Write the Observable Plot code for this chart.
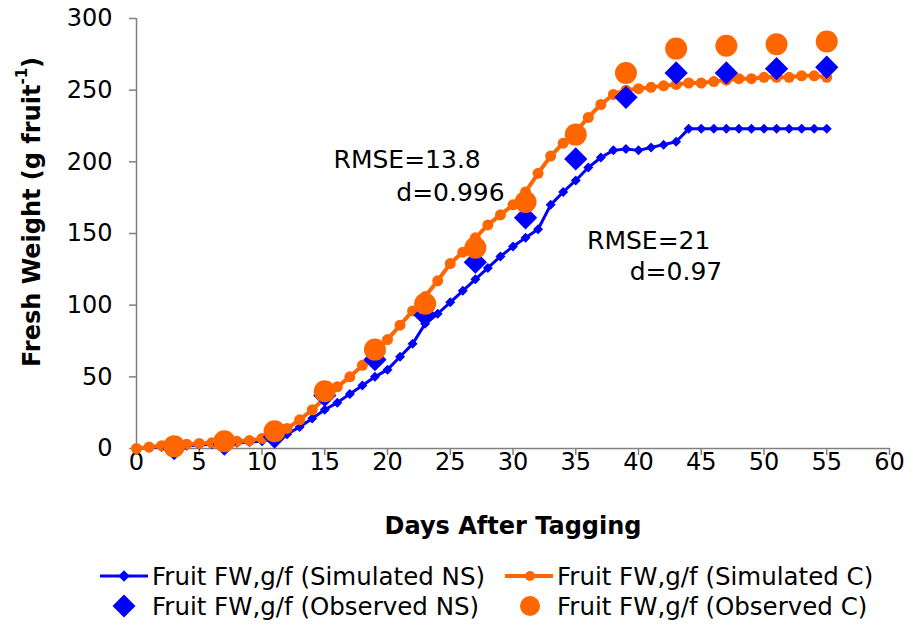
<!DOCTYPE html>
<html><head><meta charset="utf-8">
<script src="https://cdn.jsdelivr.net/npm/d3@7"></script>
<script src="https://cdn.jsdelivr.net/npm/@observablehq/plot@0.6"></script>
<style>
body{margin:0;background:#fff;font-family:"DejaVu Sans",sans-serif;}
#legend{position:relative;width:913px;height:83px;font-size:24.5px;color:#000}
.item{position:absolute;display:flex;align-items:center;height:30px;white-space:nowrap}
.item svg{margin-right:2px;flex:none}
</style></head><body>
<div id="chart"></div><div id="legend"></div>
<script>
// ---- data ----
const simDays = [0,1,2,3,4,5,6,7,8,9,10,11,12,13,14,15,16,17,18,19,20,21,22,23,24,25,26,27,28,29,30,31,32,33,34,35,36,37,38,39,40,41,42,43,44,45,46,47,48,49,50,51,52,53,54,55];
const simNS = [0,0.5,1,1.5,2,2.5,3,3.5,4,4.5,5,7,10,15,21,27,32,38,44,50,55,64,73,87,94,102,110,118,126,134,141,147,153,170,179,187,196,203,208,209,208,210,212,214,223,223,223,223,223,223,223,223,223,223,223,223];
const simC  = [0,1,2,2.5,3,3.5,4,4.5,5,5.5,7,10,14,20,27,35,43,50,58,67,76,86,96,106,117,129,137,147,156,163,170,179,192,204,213,221,231,240,247,250,251,252,253,254,255,255,256,257,258,258,259,259,259,260,260,259];
const obsDays = [3,7,11,15,19,23,27,31,35,39,43,47,51,55];
const obsNS = [0,3,8,37,62,93,130,161,202,245,262,262,265,266];
const obsC  = [1.5,5,12,40,69,101,140,172,219,262,279,281,282,284];
const xTicks = [0,5,10,15,20,25,30,35,40,45,50,55,60];
const yTicks = [0,50,100,150,200,250,300];
const annText = ["RMSE=13.8","d=0.996","RMSE=21","d=0.97"];
const annX = [15.7,20.7,35.9,39.3];
const annY = [201,178,145,123];
const seriesNames = ["Fruit FW,g/f (Simulated NS)","Fruit FW,g/f (Simulated C)","Fruit FW,g/f (Observed NS)","Fruit FW,g/f (Observed C)"];
const BLUE = "#0000FF", ORANGE = "#FF6600", GRAY = "#808080";

const sim = simDays.map((d,i)=>({d, ns: simNS[i], c: simC[i]}));
const obs = obsDays.map((d,i)=>({d, ns: obsNS[i], c: obsC[i]}));
const ann = annText.map((t,i)=>({t, x: annX[i], y: annY[i]}));

const W = 913, H = 545, mT = 18, mB = 97, mL = 136, mR = 24;
const plot = Plot.plot({
  width: W, height: H,
  marginTop: mT, marginBottom: mB, marginLeft: mL, marginRight: mR,
  style: {fontFamily: "DejaVu Sans", fontSize: "24px", background: "#fff", color: "#000", overflow: "visible"},
  x: {domain: [0,60]},
  y: {domain: [0,300]},
  marks: [
    Plot.axisX({ticks: xTicks, tickSize: 7, tickPadding: -3, stroke: GRAY, strokeWidth: 1.5, fill: "#000", fontSize: 24, label: null}),
    Plot.axisY({ticks: yTicks, tickSize: 7, tickPadding: 17, stroke: GRAY, strokeWidth: 1.5, fill: "#000", fontSize: 24, label: null}),
    Plot.ruleX([0], {stroke: GRAY, strokeWidth: 1.5}),
    Plot.ruleY([0], {stroke: GRAY, strokeWidth: 1.5}),
    Plot.line(sim, {x: "d", y: "ns", stroke: BLUE, strokeWidth: 3}),
    Plot.dot(sim, {x: "d", y: "ns", symbol: "diamond2", r: 4.5, fill: BLUE}),
    Plot.line(sim, {x: "d", y: "c", stroke: ORANGE, strokeWidth: 4}),
    Plot.dot(sim, {x: "d", y: "c", symbol: "circle", r: 5.5, fill: ORANGE}),
    Plot.dot(obs, {x: "d", y: "ns", symbol: "diamond2", r: 10.5, fill: BLUE}),
    Plot.dot(obs, {x: "d", y: "c", symbol: "circle", r: 11, fill: ORANGE}),
    Plot.text(ann, {x: "x", y: "y", text: "t", textAnchor: "start", fontSize: 25, fill: "#000"}),
    Plot.text(["Days After Tagging"], {frameAnchor: "bottom", dy: 85, fontSize: 24, fontWeight: "bold", fill: "#000"})
  ]
});
document.getElementById("chart").appendChild(plot);

// y-axis title with superscript
const svg = d3.select(plot);
const t = svg.append("text")
  .attr("transform", `translate(${mL - 104},${mT + (H - mT - mB) / 2 - 21}) rotate(-90)`)
  .attr("text-anchor", "middle")
  .attr("dominant-baseline", "central")
  .attr("font-family", "DejaVu Sans")
  .attr("font-weight", "bold")
  .attr("font-size", 24)
  .attr("fill", "#000");
t.append("tspan").text("Fresh Weight (g fruit");
t.append("tspan").attr("font-size", 15).attr("dy", -10).text("-1");
t.append("tspan").attr("dy", 10).text(")");

// legend
const legend = d3.select("#legend");
const items = [
  {name: seriesNames[0], left: 100, top: 31, color: BLUE, line: 3, shape: "diamond", size: 5},
  {name: seriesNames[1], left: 505, top: 31, color: ORANGE, line: 4, shape: "circle", size: 5},
  {name: seriesNames[2], left: 100, top: 61, color: BLUE, line: 0, shape: "diamond", size: 10},
  {name: seriesNames[3], left: 505, top: 61, color: ORANGE, line: 0, shape: "circle", size: 10}
];
for (const it of items) {
  const div = legend.append("div").attr("class", "item")
    .style("left", it.left + "px").style("top", (it.top - 15) + "px");
  const s = div.append("svg").attr("width", 50).attr("height", 30);
  if (it.line) s.append("line").attr("x1", 0).attr("x2", 48).attr("y1", 15).attr("y2", 15)
    .attr("stroke", it.color).attr("stroke-width", it.line);
  if (it.shape === "circle") s.append("circle").attr("cx", 25).attr("cy", 15).attr("r", it.size).attr("fill", it.color);
  else s.append("path").attr("d", `M24,${15 - it.size * 1.15}L${24 + it.size * 1.15},15L24,${15 + it.size * 1.15}L${24 - it.size * 1.15},15Z`).attr("fill", it.color);
  div.append("span").text(it.name);
}
</script>
</body></html>
